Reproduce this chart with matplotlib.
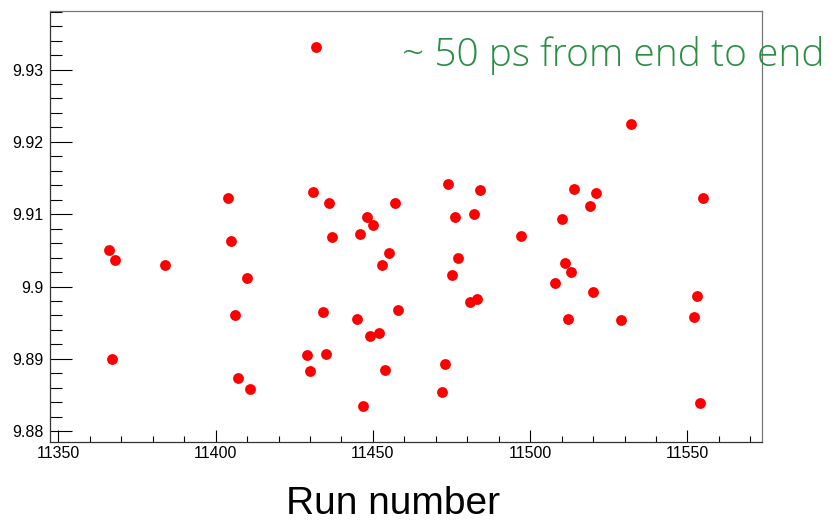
import matplotlib
matplotlib.use("Agg")
import matplotlib.pyplot as plt
from matplotlib.ticker import MultipleLocator

runs = [11366, 11368, 11367, 11384, 11404, 11405, 11410, 11406, 11407, 11411,
        11432, 11431, 11436, 11437, 11434, 11429, 11435, 11430,
        11446, 11448, 11450, 11445, 11449, 11452, 11447, 11454, 11453, 11455, 11457, 11458,
        11474, 11476, 11482, 11484, 11477, 11475, 11481, 11483, 11473, 11472,
        11497, 11510, 11514, 11521, 11519, 11511, 11513, 11508, 11520, 11512,
        11529, 11532, 11555, 11553, 11552, 11554]
values = [9.9051, 9.9036, 9.8900, 9.9030, 9.9122, 9.9063, 9.9012, 9.8960, 9.8874, 9.8858,
          9.9331, 9.9130, 9.9116, 9.9068, 9.8965, 9.8905, 9.8906, 9.8883,
          9.9073, 9.9096, 9.9085, 9.8955, 9.8931, 9.8936, 9.8835, 9.8885, 9.9030, 9.9047, 9.9116, 9.8968,
          9.9142, 9.9096, 9.9100, 9.9133, 9.9039, 9.9016, 9.8979, 9.8983, 9.8893, 9.8854,
          9.9070, 9.9093, 9.9135, 9.9129, 9.9112, 9.9032, 9.9020, 9.9005, 9.8992, 9.8955,
          9.8953, 9.9225, 9.9122, 9.8987, 9.8958, 9.8839]

x_ticks = [11350, 11400, 11450, 11500, 11550]
y_ticks = [9.88, 9.89, 9.9, 9.91, 9.92, 9.93]
y_labels = ["9.88", "9.89", "9.9", "9.91", "9.92", "9.93"]

plt.rcParams['font.family'] = ['Liberation Sans', 'DejaVu Sans']

fig = plt.figure(figsize=(8.34, 5.23), dpi=100)
ax = fig.add_axes([0.0594, 0.1549, 0.8543, 0.8241])

ax.plot(runs, values, 'o', color='#ff0000', markersize=7.8, markeredgewidth=0)

ax.set_xlim(11347.2, 11573.7)
ax.set_ylim(9.8785, 9.9381)

ax.set_xticks(x_ticks)
ax.set_yticks(y_ticks)
ax.set_yticklabels(y_labels)
ax.xaxis.set_minor_locator(MultipleLocator(10))
ax.yaxis.set_minor_locator(MultipleLocator(0.002))

ax.tick_params(axis='x', which='major', direction='in', length=8.6, width=0.8,
               labelsize=11.5, pad=3.2, top=False)
ax.tick_params(axis='x', which='minor', direction='in', length=4.3, width=0.8, top=False)
ax.tick_params(axis='y', which='major', direction='in', length=15.8, width=0.8,
               labelsize=11.5, pad=4.3, right=False)
ax.tick_params(axis='y', which='minor', direction='in', length=8.6, width=0.8, right=False)

for side in ['left', 'bottom']:
    ax.spines[side].set_color('#333333')
    ax.spines[side].set_linewidth(0.9)
for side in ['top', 'right']:
    ax.spines[side].set_color('#777777')
    ax.spines[side].set_linewidth(0.9)

# annotation and axis title
fig.text(0.482, 0.8744, "~ 50 ps from end to end", color='#2a8f45',
         fontsize=28, va='baseline', ha='left',
         family=['Open Sans', 'DejaVu Sans'], fontweight='light')
fig.text(0.4712, 0.017, "Run number", color='black',
         fontsize=28, va='baseline', ha='center')

fig.savefig("out.png", dpi=100)
